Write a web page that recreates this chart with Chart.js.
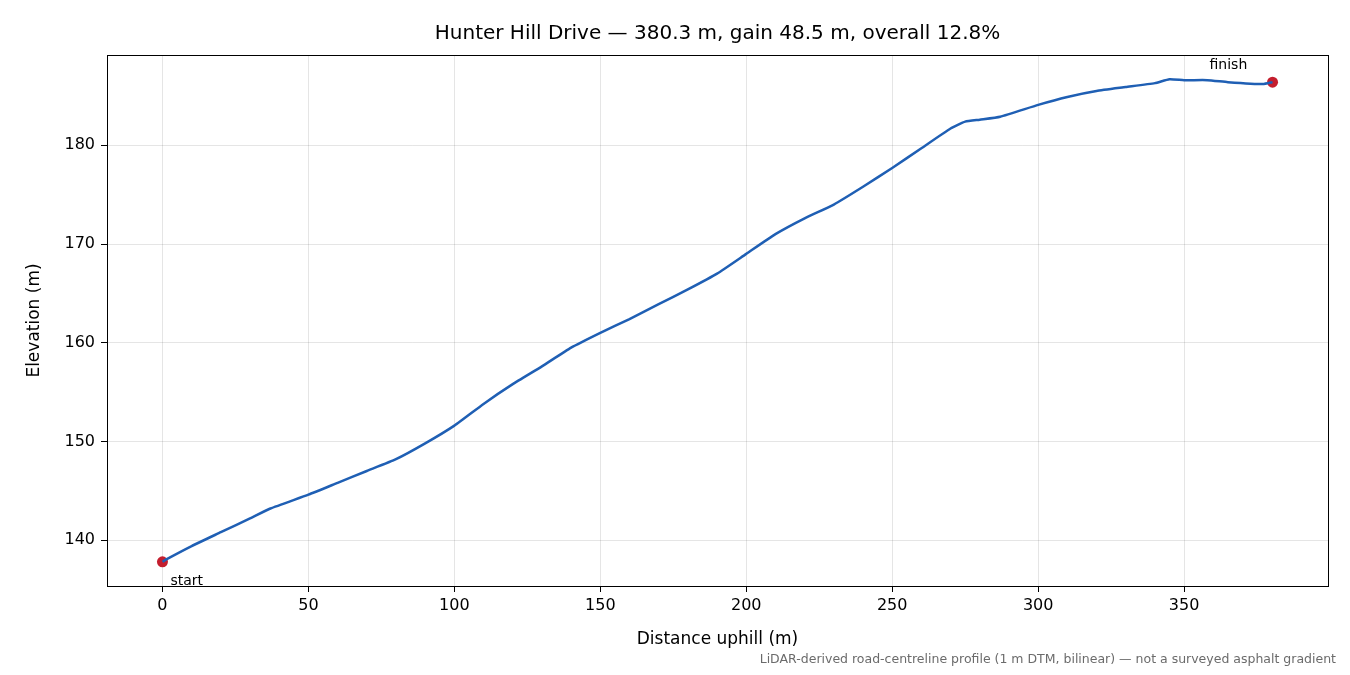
<!DOCTYPE html>
<html><head><meta charset="utf-8">
<script src="https://cdn.jsdelivr.net/npm/chart.js@4/dist/chart.umd.min.js"></script>
<style>html,body{margin:0;padding:0;background:#fff}#w{width:1350px;height:675px}</style>
</head><body><div id="w"><canvas id="c"></canvas></div>
<script>
const distances = [0,1,10,20,30,37,50,60,70,80,90,100,110,120,130,140,150,160,170,180,190,200,210,220,230,240,250,260,270,275,280,287,300,310,320,330,340,345,350,358,365,377,380.3];
const elevations = [137.8,138.0,139.4,140.8,142.2,143.2,144.6,145.8,147.0,148.2,149.8,151.6,153.8,155.8,157.6,159.5,161.0,162.4,163.9,165.4,167.0,169.0,171.0,172.6,174.0,175.8,177.7,179.7,181.7,182.4,182.6,182.9,184.1,184.9,185.5,185.9,186.3,186.7,186.6,186.6,186.4,186.2,186.4];
const endpoints = [{x:0,y:137.8,label:'start'},{x:380.3,y:186.4,label:'finish'}];
const xTicks=[0,50,100,150,200,250,300,350], yTicks=[140,150,160,170,180];
const F='"DejaVu Sans", sans-serif';
const deco={id:'deco',afterDraw(c){const x=c.ctx,a=c.chartArea,sx=c.scales.x,sy=c.scales.y;x.save();
x.strokeStyle='#000';x.lineWidth=1;x.strokeRect(a.left+0.5,a.top+0.5,a.right-a.left,a.bottom-a.top);
x.fillStyle='#000';x.textAlign='center';x.textBaseline='middle';x.font='20px '+F;
x.fillText('Hunter Hill Drive — 380.3 m, gain 48.5 m, overall 12.8%',(a.left+a.right)/2,34);
x.font='17px '+F;x.fillText('Distance uphill (m)',(a.left+a.right)/2,640);
x.save();x.translate(35,(a.top+a.bottom)/2);x.rotate(-Math.PI/2);x.fillText('Elevation (m)',0,0);x.restore();
x.font='14px '+F;x.textAlign='left';
x.fillText('start',sx.getPixelForValue(0)+8,sy.getPixelForValue(137.8)+20);
x.fillText('finish',sx.getPixelForValue(380.3)-63,sy.getPixelForValue(186.4)-17);
x.fillStyle='#6b6b6b';x.font='12.5px '+F;x.textAlign='right';
x.fillText('LiDAR-derived road-centreline profile (1 m DTM, bilinear) — not a surveyed asphalt gradient',1336,660);
x.restore();}};
new Chart(document.getElementById('c'),{type:'scatter',
data:{datasets:[
{data:distances.map((d,i)=>({x:d,y:elevations[i]})),showLine:true,borderColor:'#1f5fb4',borderWidth:2.5,pointRadius:0,tension:0.15},
{data:endpoints.map(p=>({x:p.x,y:p.y})),backgroundColor:'#c41e2e',borderWidth:0,pointRadius:5.5}]},
options:{responsive:true,maintainAspectRatio:false,animation:false,
layout:{padding:{top:55,right:22,left:0,bottom:0}},
plugins:{legend:{display:false},tooltip:{enabled:false}},
scales:{
x:{type:'linear',min:-19.0,max:399.3,afterFit(s){s.height=89},afterBuildTicks(s){s.ticks=xTicks.map(v=>({value:v}))},
grid:{color:'rgba(0,0,0,0.1)',tickColor:'#000',tickLength:6},border:{display:false},
ticks:{color:'#000',font:{family:F,size:16},padding:4}},
y:{type:'linear',min:135.35,max:189.15,afterFit(s){s.width=107},afterBuildTicks(s){s.ticks=yTicks.map(v=>({value:v}))},
grid:{color:'rgba(0,0,0,0.1)',tickColor:'#000',tickLength:6},border:{display:false},
ticks:{color:'#000',font:{family:F,size:16},padding:6}}}},
plugins:[deco]});
</script></body></html>
